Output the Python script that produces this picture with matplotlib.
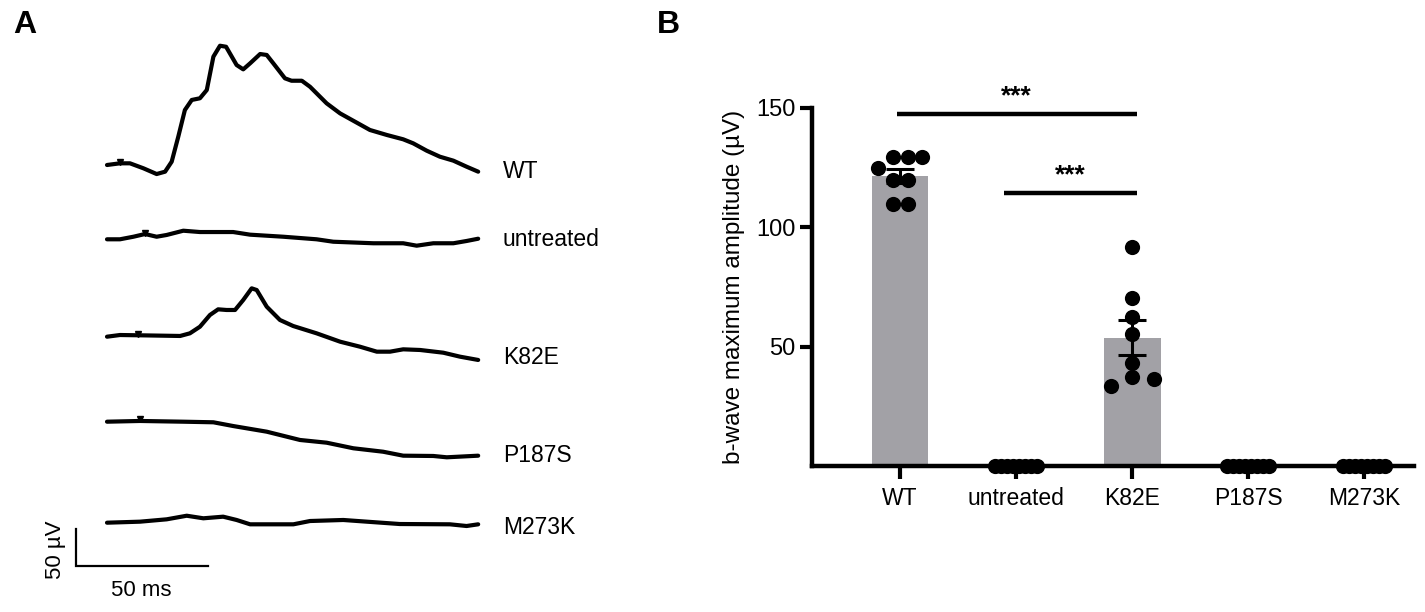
import numpy as np
import matplotlib.pyplot as plt

plt.rcParams['font.family'] = ['Liberation Sans', 'DejaVu Sans']

# ---- panel A: ERG traces (time in ms, amplitude in uV relative to trace start)
trace_names = ['WT', 'untreated', 'K82E', 'P187S', 'M273K']

wt_t = [0, 4.9, 8.7, 13.8, 18.8, 22, 24.5, 27, 29.5, 32.1, 35.2, 37.8, 40.3, 42.8, 45.1,
        49.1, 51.6, 54.2, 58, 60.5, 63, 67.4, 69.9, 73.8, 76.9, 83.2, 88.3, 93.3, 99.6,
        106, 112.2, 116, 121.1, 126.1, 131.2, 136.2, 140.6]
wt_v = [0, 2.3, 2.3, -4.5, -12.3, -9.1, 4.5, 38.6, 74.9, 88.6, 90.9, 102.2, 147.6, 162.5,
        161.1, 136.2, 130.3, 138.5, 151.2, 149.9, 138.5, 118.1, 114.8, 114.8, 106.6, 84,
        70.3, 60.3, 47.7, 40.9, 35, 29.5, 19.5, 11.3, 5.9, -2.3, -9.1]

ut_t = [0, 4.9, 10, 14.4, 18.8, 22.6, 28.9, 35.2, 47.8, 54.2, 66.8, 79.4, 85.7, 100.9,
        112.2, 117.3, 123.6, 131.2, 136.2, 140.6]
ut_v = [0, 0, 3.5, 7.2, 3.5, 5.9, 11.7, 9.9, 9.9, 6.3, 3.5, 0, -3.3, -5.4, -5.4, -8.7,
        -5.4, -5.4, -2.3, 0.8]

k82e_t = [0, 4.9, 12.5, 27.7, 31.4, 35.2, 39, 42.1, 45.3, 48.5, 51.6, 54.8, 56.7, 60.5,
          65.5, 70.5, 79.4, 88.3, 95.8, 102.2, 107.2, 112.2, 118.6, 127.4, 133.7, 140.6]
k82e_v = [0, 2.3, 1.9, 1.0, 4.6, 13.6, 29.6, 37.3, 36.4, 36.4, 50, 65.9, 63.6, 40.9,
          22.8, 14.6, 4.6, -6.8, -13.6, -20.4, -20.4, -17.2, -18.1, -21.8, -27.2, -31.7]

p187s_t = [0, 12.5, 28.9, 40.3, 47.8, 60.5, 73.1, 83.2, 93.3, 104.6, 112.2, 123.6, 128.7, 140.6]
p187s_v = [0, 1.0, 0, -0.8, -5.9, -13.6, -24.9, -28.6, -36.2, -40.9, -46.3, -46.7, -48.5, -46.3]

m273k_t = [0, 12.5, 22.6, 30.2, 36.5, 44, 49.1, 54.2, 70.6, 76.9, 89.5, 98.4, 110.9,
           129.9, 136.2, 140.6]
m273k_v = [0, 1.4, 4.6, 9.5, 6.0, 8.2, 3.7, -2.2, -2.2, 2.3, 3.7, 1.4, -1.8, -2.2, -4.5, -2.2]

# stimulus flash time marker per trace (ms), None = not shown
stim_t = [4.9, 14.4, 11.7, 12.5, None]

# ---- panel B: b-wave maximum amplitude (uV)
groups = ['WT', 'untreated', 'K82E', 'P187S', 'M273K']
wt_amp = [129.4, 129.4, 129.4, 124.8, 119.8, 119.8, 109.8, 109.8]
untreated_amp = [0, 0, 0, 0, 0, 0, 0, 0]
k82e_amp = [91.6, 70.5, 62.5, 55.3, 43.3, 37.4, 36.3, 33.5]
p187s_amp = [0, 0, 0, 0, 0, 0, 0, 0]
m273k_amp = [0, 0, 0, 0, 0, 0, 0, 0]

W, H = 1425, 612
fig = plt.figure(figsize=(W / 100, H / 100), dpi=100)

# panel A drawn in ms / uV, axes laid over the left part of the figure
PX_MS = 2.64    # pixels per ms
PX_UV = 0.734   # pixels per uV
X0 = 107        # pixel column of t = 0
axa = fig.add_axes([0, 0, 640 / W, 1])
axa.set_xlim((0 - X0) / PX_MS, (640 - X0) / PX_MS)
axa.set_ylim(0, H / PX_UV)
axa.axis('off')


def a_xy(px, py):
    return (px - X0) / PX_MS, (H - py) / PX_UV


baselines_px = [165, 239.3, 336.7, 421.7, 522.7]
label_rows_px = [171.7, 240, 358, 455, 528]
traces = [(wt_t, wt_v), (ut_t, ut_v), (k82e_t, k82e_v), (p187s_t, p187s_v), (m273k_t, m273k_v)]

for (t, v), name, base_px, lab_px, st in zip(traces, trace_names, baselines_px, label_rows_px, stim_t):
    base = a_xy(0, base_px)[1]
    y = base + np.array(v)
    axa.plot(t, y, color='k', lw=3.0, solid_joinstyle='round', solid_capstyle='round')
    if st is not None:
        axa.plot(st, np.interp(st, t, y) + 2, marker='v', color='k', ms=4.5)
    axa.text(*a_xy(503, lab_px), name, fontsize=16.5, va='center', ha='left')

# scale bars: 50 ms and 50 uV
sx, sy = a_xy(75.7, 565.7)
axa.plot([sx, sx, sx + 50], [sy + 50, sy, sy], color='k', lw=1.6, solid_joinstyle='miter')
axa.text(*a_xy(141, 591), '50 ms', fontsize=16, ha='center', va='center')
axa.text(*a_xy(55, 550), '50 µV', fontsize=16, ha='center', va='center', rotation=90)

fig.text(13 / W, 1 - 33 / H, 'A', fontsize=23, fontweight='bold', va='baseline')
fig.text(657 / W, 1 - 33 / H, 'B', fontsize=23, fontweight='bold', va='baseline')

# ---- panel B
axb = fig.add_axes([812 / W, (H - 466) / H, 602 / W, 358 / H])
x = np.arange(len(groups))
amps = [wt_amp, untreated_amp, k82e_amp, p187s_amp, m273k_amp]
means = [np.mean(a) for a in amps]
sems = [np.std(a, ddof=1) / np.sqrt(len(a)) for a in amps]

axb.bar(x, means, width=0.49, color='#a2a1a6', zorder=1)
for xi, m, s in zip(x, means, sems):
    if m > 0:
        axb.errorbar(xi, m, yerr=s, fmt='none', ecolor='k', elinewidth=2.2,
                     capsize=10, capthick=2.2, zorder=5)

# scatter layout (horizontal spread of the points)
zero_off = np.linspace(-0.18, 0.18, 8)
offsets = [[-0.06, 0.07, 0.19, -0.19, -0.06, 0.07, -0.06, 0.07],
           zero_off,
           [0, 0, 0, 0, 0, 0, 0.19, -0.18],
           zero_off,
           zero_off]
for xi, a, off in zip(x, amps, offsets):
    axb.scatter(xi + np.array(off), a, s=120, color='k', linewidths=0, zorder=6, clip_on=False)

# significance brackets
for x1, x2, yl in [(-0.03, 2.04, 147.4), (0.9, 2.04, 114.4)]:
    axb.plot([x1, x2], [yl, yl], color='k', lw=3.2, solid_capstyle='butt', clip_on=False)
    axb.text((x1 + x2) / 2, yl + 7.5, '***', fontsize=19, fontweight='bold',
             ha='center', va='center')

axb.set_xlim(-0.759, 4.43)
axb.set_ylim(0, 150)
axb.set_yticks([50, 100, 150])
axb.set_xticks(x)
axb.set_xticklabels(groups)
axb.set_ylabel('b-wave maximum amplitude (µV)', fontsize=17.5, labelpad=8)
for side in ['top', 'right']:
    axb.spines[side].set_visible(False)
for side in ['left', 'bottom']:
    axb.spines[side].set_linewidth(3.2)
axb.tick_params(axis='x', length=9, width=3, labelsize=16.5, pad=6)
axb.tick_params(axis='y', length=9, width=3, labelsize=17, pad=3)

fig.savefig('out.png', dpi=100)
